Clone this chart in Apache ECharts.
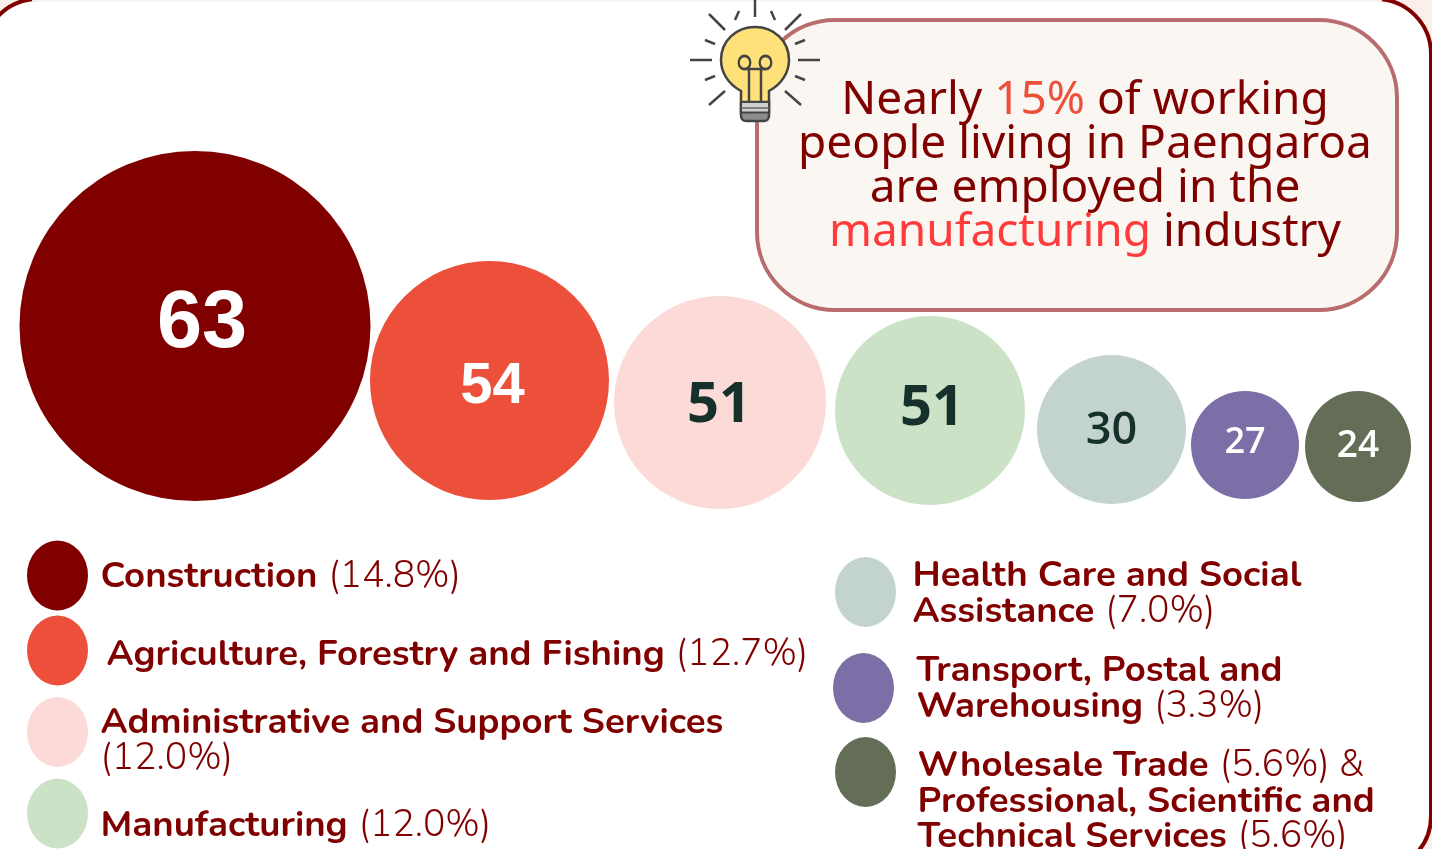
<!DOCTYPE html>
<html><head><meta charset="utf-8">
<style>html,body{margin:0;padding:0;background:#fff;overflow:hidden}#c{width:1432px;height:849px}</style>
<script src="https://cdn.jsdelivr.net/npm/echarts@6/dist/echarts.min.js"></script>
</head><body><div id="c"></div>
<script>
const categories = ['Construction','Agriculture, Forestry and Fishing','Administrative and Support Services','Manufacturing','Health Care and Social Assistance','Transport, Postal and Warehousing','Wholesale Trade & Professional, Scientific and Technical Services'];
const workers = [63,54,51,51,30,27,24];
const shares = ['14.8%','12.7%','12.0%','12.0%','7.0%','3.3%','5.6%'];
const colors = ['#800000','#ec4f3a','#fbdad8','#cce2c6','#c3d4cf','#7c6ea6','#646e56'];

// layout
const bubbleX = [195,489.5,720,930,1111.5,1245,1358];
const bubbleY = [326,380.5,402.5,410.5,429.5,445,446.5];
const bubbleW = [351,239,212,190,149,108,106];
const bubbleH = [350,239,213,189,149,108,111];
const labelOff = [[7,-1],[3,6],[-1,4],[2,-1],[0,2],[0,-2],[0,0]];
const labelCol = ['#fff','#fff','#16302b','#16302b','#16302b','#fff','#fff'];
const labelFont = [
  [81,700,'Liberation Sans'],[58,700,'Liberation Sans'],[56,700,'Open Sans'],
  [56,700,'Open Sans'],[45,600,'Open Sans'],[36,600,'Open Sans'],[37,600,'Open Sans']];
const dotX = [57.5,57.5,57.5,57.5,865.5,863.5,865.5];
const dotY = [575.5,650.5,732,813.5,592,688,772];

const DARK='#800000';
const FB='Nunito, Lato, "Noto Sans", sans-serif';
const legendLines = [
  {x:100.5,y:578,t:`{b|${categories[0]}}{n|(${shares[0]})}`},
  {x:106.5,y:656,t:`{b|${categories[1]}}{n|(${shares[1]})}`},
  {x:100.5,y:724,t:`{b|${categories[2]}}`},
  {x:100.5,y:760,t:`{m|(${shares[2]})}`},
  {x:100.5,y:827,t:`{b|${categories[3]}}{n|(${shares[3]})}`},
  {x:912.5,y:577,t:`{b|Health Care and Social}`},
  {x:912.5,y:613,t:`{b|Assistance}{n|(${shares[4]})}`},
  {x:916.5,y:672,t:`{b|Transport, Postal and}`},
  {x:916.5,y:708,t:`{b|Warehousing}{n|(${shares[5]})}`},
  {x:917.5,y:767,t:`{b|Wholesale Trade}{n|(${shares[6]}) &}`},
  {x:917.5,y:803,t:`{b|Professional, Scientific and}`},
  {x:917.5,y:838,t:`{b|Technical Services}{n|(${shares[6]})}`}
];
const calloutLines = [
  {y:101,t:'{d|Nearly }{o|15%}{d| of working}'},
  {y:145,t:'{d|people living in Paengaroa}'},
  {y:189,t:'{d|are employed in the}'},
  {y:233,t:'{r|manufacturing}{d| industry}'}
];
const CF='"Noto Sans", "Open Sans", sans-serif';
const g=[];
// outer frame
g.push({type:'rect',z:0,shape:{x:0,y:0,width:1432,height:849},style:{fill:'#fbf0e9'}});
g.push({type:'rect',z:1,shape:{x:-17,y:-1,width:1448,height:872,r:55},style:{fill:'#fff',stroke:DARK,lineWidth:4}});
g.push({type:'rect',z:1,shape:{x:32,y:0,width:1350,height:1.5},style:{fill:'#f6f1f1'}});
// callout box
g.push({type:'rect',z:2,shape:{x:757,y:20,width:640,height:290,r:78},style:{fill:'#faf6f2',stroke:'#b96c6e',lineWidth:4}});
calloutLines.forEach(l=>g.push({type:'text',z:5,x:1085,y:l.y,style:{text:l.t,align:'center',verticalAlign:'middle',rich:{
  d:{fill:DARK,font:`400 46px ${CF}`},o:{fill:'#ec4f3a',font:`400 46px ${CF}`},r:{fill:'#ff3b3b',font:`400 46px ${CF}`}}}}));
legendLines.forEach(l=>g.push({type:'text',z:5,x:l.x,y:l.y,style:{text:l.t,align:'left',verticalAlign:'middle',rich:{
  b:{fill:DARK,font:`700 36.6px ${FB}`},n:{fill:DARK,font:`300 37.4px ${FB}`,padding:[0,0,0,11]},m:{fill:DARK,font:`300 37.4px ${FB}`}}}}));
// bulb
const ST='#444';
const bulbRays=[[755,0,755,17],[785,30,801,14],[725,30,709,14],[798,60,820,60],[690,60,712,60],[785,91,801,105],[725,91,709,105],
 [771,11,775,20],[739,11,735,20],[795,44,805,40],[715,44,705,40],[795,76,805,80],[715,76,705,80]];
bulbRays.forEach(r=>g.push({type:'line',z:6,shape:{x1:r[0],y1:r[1],x2:r[2],y2:r[3]},style:{stroke:ST,lineWidth:2.5}}));
echarts.graphic.registerShape('bulbBody', echarts.graphic.extendPath('M741 112 L741 91 C728 84 721 72 721 60 C721 41 736 27 755 27 C774 27 789 41 789 60 C789 72 782 84 769 91 L769 112 Z',{}));
g.push({type:'bulbBody',z:7,style:{fill:'#ffe17a',stroke:ST,lineWidth:2.5}});
g.push({type:'rect',z:8,shape:{x:741,y:102,width:28,height:19,r:[0,0,5,5]},style:{fill:'#8d8d8d',stroke:ST,lineWidth:2.5}});
g.push({type:'rect',z:9,shape:{x:742,y:103,width:26,height:9},style:{fill:'#cfcfcf'}});
g.push({type:'line',z:9,shape:{x1:741,y1:108,x2:769,y2:108},style:{stroke:'#666',lineWidth:1.5}});
g.push({type:'line',z:9,shape:{x1:741,y1:112.5,x2:769,y2:112.5},style:{stroke:ST,lineWidth:2}});
g.push({type:'line',z:9,shape:{x1:749,y1:69,x2:749,y2:102},style:{stroke:ST,lineWidth:2.5}});
g.push({type:'line',z:9,shape:{x1:761,y1:69,x2:761,y2:102},style:{stroke:ST,lineWidth:2.5}});
g.push({type:'line',z:9,shape:{x1:745,y1:69,x2:765,y2:69},style:{stroke:ST,lineWidth:2.5}});
g.push({type:'circle',z:9,shape:{cx:744.5,cy:62.5,r:5.8},scaleY:1.15,originX:744.5,originY:62.5,style:{fill:'none',stroke:ST,lineWidth:2.3}});
g.push({type:'circle',z:9,shape:{cx:765.5,cy:62.5,r:5.8},scaleY:1.15,originX:765.5,originY:62.5,style:{fill:'none',stroke:ST,lineWidth:2.3}});

const bubbleData = workers.map((v,i)=>({
  name:categories[i], value:[bubbleX[i],bubbleY[i],v],
  symbolSize:[bubbleW[i],bubbleH[i]],
  itemStyle:{color:colors[i],opacity:1},
  label:{show:true,position:'inside',formatter:String(v),offset:labelOff[i],color:labelCol[i],
    fontSize:labelFont[i][0],fontWeight:labelFont[i][1],fontFamily:labelFont[i][2]}
}));
const dotData = categories.map((c,i)=>({name:c,value:[dotX[i],dotY[i]],symbolSize:[61,70],itemStyle:{color:colors[i],opacity:1}}));

const chart=echarts.init(document.getElementById('c'),null,{renderer:'canvas'});
chart.setOption({
  animation:false,
  grid:{left:0,right:0,top:0,bottom:0,containLabel:false},
  xAxis:{type:'value',min:0,max:1432,show:false},
  yAxis:{type:'value',min:0,max:849,inverse:true,show:false},
  tooltip:{show:false},
  graphic:{elements:g},
  series:[
    {type:'scatter',name:'Workers',symbol:'circle',data:bubbleData,z:3,silent:true,clip:false},
    {type:'scatter',name:'Legend',symbol:'circle',data:dotData,z:3,silent:true,clip:false}
  ]
});
</script></body></html>
